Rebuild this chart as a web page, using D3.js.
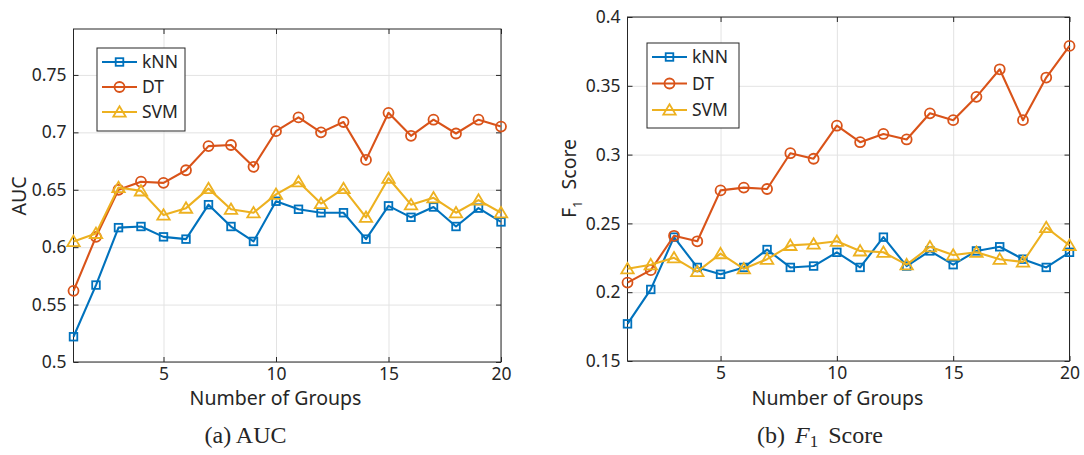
<!DOCTYPE html>
<html>
<head>
<meta charset="utf-8">
<script src="https://cdn.jsdelivr.net/npm/d3@7"></script>
<style>
  body { margin: 0; background: #fff; }
  svg text { fill: #262626; }
</style>
</head>
<body>
<div id="chart"></div>
<script>
// x values: number of groups
const groups = d3.range(1, 21);

// (a) AUC
const aucKNN = [0.522, 0.567, 0.617, 0.618, 0.609, 0.607, 0.637, 0.618, 0.605, 0.640,
  0.633, 0.630, 0.630, 0.607, 0.636, 0.626, 0.635, 0.618, 0.634, 0.622];
const aucDT = [0.562, 0.609, 0.650, 0.657, 0.656, 0.667, 0.688, 0.689, 0.670, 0.701,
  0.713, 0.700, 0.709, 0.676, 0.717, 0.697, 0.711, 0.699, 0.711, 0.705];
const aucSVM = [0.605, 0.612, 0.652, 0.649, 0.628, 0.634, 0.651, 0.633, 0.630, 0.646,
  0.657, 0.638, 0.651, 0.626, 0.660, 0.637, 0.643, 0.630, 0.641, 0.630];

// (b) F1 score
const f1KNN = [0.177, 0.202, 0.240, 0.218, 0.213, 0.218, 0.231, 0.218, 0.219, 0.229,
  0.218, 0.240, 0.219, 0.230, 0.220, 0.230, 0.233, 0.224, 0.218, 0.229];
const f1DT = [0.207, 0.216, 0.241, 0.237, 0.274, 0.276, 0.275, 0.301, 0.297, 0.321,
  0.309, 0.315, 0.311, 0.330, 0.325, 0.342, 0.362, 0.325, 0.356, 0.379];
const f1SVM = [0.217, 0.220, 0.225, 0.215, 0.228, 0.217, 0.224, 0.234, 0.235, 0.237,
  0.230, 0.229, 0.220, 0.233, 0.227, 0.229, 0.224, 0.222, 0.247, 0.234];

const methods = ["kNN", "DT", "SVM"];
const xTicks = [5, 10, 15, 20];
const aucTicks = [0.5, 0.55, 0.6, 0.65, 0.7, 0.75];
const f1Ticks = [0.15, 0.2, 0.25, 0.3, 0.35, 0.4];

const colors = { kNN: "#0072BD", DT: "#D95319", SVM: "#EDB120" };
const shapes = { kNN: "square", DT: "circle", SVM: "triangle" };

const width = 1084;
const height = 455;
const tickFont = "Noto Sans, DejaVu Sans, sans-serif";

let svg = d3
  .select("#chart")
  .append("svg")
  .attr("width", width)
  .attr("height", height);

function drawMarker(sel, shape, color) {
  if (shape === "square") {
    sel.append("rect")
      .attr("x", -3.8).attr("y", -3.8)
      .attr("width", 7.6).attr("height", 7.6)
      .attr("fill", "none").attr("stroke", color).attr("stroke-width", 1.8);
  } else if (shape === "circle") {
    sel.append("circle")
      .attr("r", 5)
      .attr("fill", "none").attr("stroke", color).attr("stroke-width", 1.8);
  } else {
    sel.append("path")
      .attr("d", "M0,-5.8L6.2,4.6L-6.2,4.6Z")
      .attr("fill", "none").attr("stroke", color).attr("stroke-width", 1.8)
      .attr("stroke-linejoin", "miter");
  }
}

function drawPanel(opt) {
  const x = d3.scaleLinear().domain([1, 20]).range([opt.x0, opt.x1]);
  const y = d3.scaleLinear().domain(opt.yDomain).range([opt.y1, opt.y0]);
  const g = svg.append("g");
  const fmt = d => String(+d.toFixed(2));

  // grid
  g.append("g")
    .attr("transform", `translate(0,${opt.y1})`)
    .call(d3.axisBottom(x).tickValues(xTicks).tickSize(-(opt.y1 - opt.y0)).tickFormat(""))
    .call(a => a.select(".domain").remove())
    .selectAll("line").attr("stroke", "#e3e3e3").attr("stroke-width", 1);
  g.append("g")
    .attr("transform", `translate(${opt.x0},0)`)
    .call(d3.axisLeft(y).tickValues(opt.yTicks).tickSize(-(opt.x1 - opt.x0)).tickFormat(""))
    .call(a => a.select(".domain").remove())
    .selectAll("line").attr("stroke", "#e3e3e3").attr("stroke-width", 1);

  // axes with inside ticks
  const bottom = g.append("g")
    .attr("transform", `translate(0,${opt.y1})`)
    .call(d3.axisBottom(x).tickValues(xTicks).tickSizeInner(-5).tickSizeOuter(0).tickPadding(6));
  const left = g.append("g")
    .attr("transform", `translate(${opt.x0},0)`)
    .call(d3.axisLeft(y).tickValues(opt.yTicks).tickFormat(fmt).tickSizeInner(-5).tickSizeOuter(0).tickPadding(7));
  const top = g.append("g")
    .attr("transform", `translate(0,${opt.y0})`)
    .call(d3.axisTop(x).tickValues(xTicks).tickSizeInner(-5).tickSizeOuter(0).tickFormat(""));
  const right = g.append("g")
    .attr("transform", `translate(${opt.x1},0)`)
    .call(d3.axisRight(y).tickValues(opt.yTicks).tickSizeInner(-5).tickSizeOuter(0).tickFormat(""));

  [bottom, left, top, right].forEach(a => {
    a.select(".domain").remove();
    a.selectAll("line").attr("stroke", "#262626");
    a.selectAll("text")
      .attr("font-family", tickFont)
      .attr("font-size", 17.5)
      .attr("fill", "#262626");
  });

  g.append("rect")
    .attr("x", opt.x0).attr("y", opt.y0)
    .attr("width", opt.x1 - opt.x0).attr("height", opt.y1 - opt.y0)
    .attr("fill", "none").attr("stroke", "#262626").attr("stroke-width", 1);

  // series
  const line = d3.line().x((d, i) => x(groups[i])).y(d => y(d));
  methods.forEach(m => {
    const vals = opt.series[m];
    g.append("path")
      .datum(vals)
      .attr("d", line)
      .attr("fill", "none")
      .attr("stroke", colors[m])
      .attr("stroke-width", 2.1)
      .attr("stroke-linejoin", "round");
    g.selectAll(".mk-" + m)
      .data(vals)
      .enter()
      .append("g")
      .attr("transform", (d, i) => `translate(${x(groups[i])},${y(d)})`)
      .each(function () { drawMarker(d3.select(this), shapes[m], colors[m]); });
  });

  // legend
  const lg = opt.legend;
  g.append("rect")
    .attr("x", lg.x).attr("y", lg.y)
    .attr("width", lg.w).attr("height", lg.h)
    .attr("fill", "#fff").attr("stroke", "#262626").attr("stroke-width", 1);
  methods.forEach((m, i) => {
    const ly = lg.y + lg.first + i * lg.step;
    g.append("line")
      .attr("x1", lg.x + 5).attr("x2", lg.x + 40)
      .attr("y1", ly).attr("y2", ly)
      .attr("stroke", colors[m]).attr("stroke-width", 2.1);
    drawMarker(g.append("g").attr("transform", `translate(${lg.x + 22.5},${ly})`), shapes[m], colors[m]);
    g.append("text")
      .attr("x", lg.x + 45).attr("y", ly)
      .attr("dy", "0.35em")
      .attr("font-family", tickFont)
      .attr("font-size", 17.5)
      .text(m);
  });

  // x label
  g.append("text")
    .attr("x", opt.xLabelX).attr("y", 405)
    .attr("text-anchor", "middle")
    .attr("font-family", tickFont)
    .attr("font-size", 19.5)
    .text("Number of Groups");

  return g;
}

const gA = drawPanel({
  x0: 73.5, x1: 501, y0: 29, y1: 362,
  yDomain: [0.5, 0.79], yTicks: aucTicks,
  series: { kNN: aucKNN, DT: aucDT, SVM: aucSVM },
  legend: { x: 97, y: 48, w: 88, h: 83, first: 14, step: 25 },
  xLabelX: 275.5
});

const gB = drawPanel({
  x0: 627.5, x1: 1069.5, y0: 17, y1: 361,
  yDomain: [0.15, 0.4], yTicks: f1Ticks,
  series: { kNN: f1KNN, DT: f1DT, SVM: f1SVM },
  legend: { x: 647, y: 43, w: 92, h: 85, first: 14, step: 26.5 },
  xLabelX: 837.5
});

// y labels
gA.append("text")
  .attr("transform", "translate(26,196) rotate(-90)")
  .attr("text-anchor", "middle")
  .attr("font-family", tickFont)
  .attr("font-size", 19.5)
  .text("AUC");

let yb = gB.append("text")
  .attr("transform", "translate(576,218) rotate(-90)")
  .attr("font-family", tickFont)
  .attr("font-size", 19.5);
yb.append("tspan").text("F");
yb.append("tspan").attr("dy", 6).attr("font-size", 13).text("1");
yb.append("tspan").attr("dy", -6).attr("dx", 11).text("Score");

// captions (serif, like the paper)
svg.append("text")
  .attr("x", 245.5).attr("y", 443)
  .attr("text-anchor", "middle")
  .attr("font-family", "Liberation Serif, Times New Roman, serif")
  .attr("font-size", 24)
  .attr("fill", "#000")
  .text("(a) AUC");

let cap = svg.append("text")
  .attr("x", 820).attr("y", 443)
  .attr("text-anchor", "middle")
  .attr("font-family", "Liberation Serif, Times New Roman, serif")
  .attr("font-size", 24)
  .attr("fill", "#000");
cap.append("tspan").text("(b)");
cap.append("tspan").attr("dx", 10).attr("font-style", "italic").text("F");
cap.append("tspan").attr("dy", 4).attr("font-size", 17).text("1");
cap.append("tspan").attr("dy", -4).attr("dx", 10).text("Score");
</script>
</body>
</html>
